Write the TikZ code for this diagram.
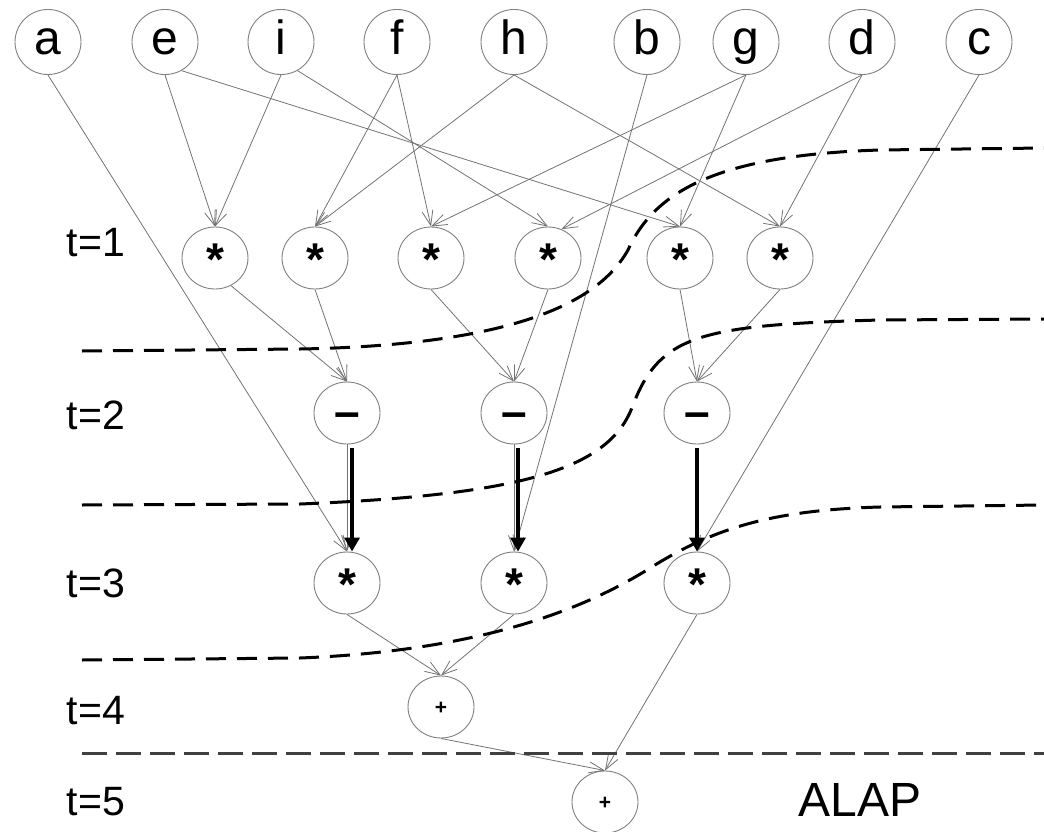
\documentclass[tikz,border=0pt]{standalone}
\usepackage{fontspec}
\setmainfont{Liberation Sans}
\usetikzlibrary{arrows.meta}
\usetikzlibrary{shapes.geometric}

\tikzset{
  opnode/.style={ellipse, draw=black!50, line width=0.9pt, minimum width=66pt, minimum height=62pt, inner sep=0pt},
  innode/.style={opnode, font=\fontsize{48}{50}\selectfont, text height=36pt, text depth=10pt},
  mulop/.style={opnode, font=\bfseries\fontsize{46}{46}\selectfont, text height=34pt, text depth=-10pt},
  subop/.style={opnode, font=\bfseries\fontsize{46}{46}\selectfont, text height=29pt, text depth=0pt},
  addop/.style={opnode, font=\bfseries\fontsize{21}{21}\selectfont, text height=15pt, text depth=0pt},
  slot/.style={font=\fontsize{41}{41}\selectfont},
  dep/.style={draw=black!55, line width=0.8pt, -{Straight Barb[length=15pt,width=11pt]}},
  chain/.style={draw=black, line width=3.6pt, shorten <=4pt, -{Triangle[length=14pt,width=15pt]}},
  bound/.style={draw=black, line width=3pt, dash pattern=on 20pt off 11pt},
}

\begin{document}
\begin{tikzpicture}[x=1pt,y=-1pt]
\useasboundingbox (0,0) rectangle (1044,832);

% inputs
\node[innode] (a) at (48,42) {a};
\node[innode] (e) at (165,42) {e};
\node[innode] (i) at (281,42) {i};
\node[innode] (f) at (397,42) {f};
\node[innode] (h) at (514,42) {h};
\node[innode] (b) at (647,42) {b};
\node[innode] (g) at (746,42) {g};
\node[innode] (d) at (862,42) {d};
\node[innode] (c) at (979,42) {c};

% t=1
\node[mulop] (m1) at (215,258) {*};
\node[mulop] (m2) at (315,258) {*};
\node[mulop] (m3) at (431,258) {*};
\node[mulop] (m4) at (548,258) {*};
\node[mulop] (m5) at (680,258) {*};
\node[mulop] (m6) at (780,258) {*};

% t=2
\node[subop] (s1) at (347,413) {–};
\node[subop] (s2) at (514,413) {–};
\node[subop] (s3) at (697,413) {–};

% t=3
\node[mulop] (p1) at (347,583) {*};
\node[mulop] (p2) at (514,583) {*};
\node[mulop] (p3) at (697,583) {*};

% t=4, t=5
\node[addop] (q) at (441,707) {+};
\node[addop] (r) at (605,802) {+};

% time labels
\node[slot] (t1) at (96,243) {t=1};
\node[slot] (t2) at (96,415) {t=2};
\node[slot] (t3) at (96,583) {t=3};
\node[slot] (t4) at (96,711) {t=4};
\node[slot] (t5) at (96,802) {t=5};
\node[font=\fontsize{48}{48}\selectfont] (alap) at (860,800) {ALAP};

% data edges
\draw[dep] (a.south) -- (p1.north);
\draw[dep] (e.south) -- (m1.north);
\draw[dep] (e.-60) -- (m5.north);
\draw[dep] (i.south) -- (m1.north);
\draw[dep] (i.-60) -- (m4.north);
\draw[dep] (f.south) -- (m2.north);
\draw[dep] (f.south) -- (m3.north);
\draw[dep] (h.south) -- (m2.north);
\draw[dep] (h.south) -- (m6.north);
\draw[dep] (b.south) -- (p2.north);
\draw[dep] (g.south) -- (m3.north);
\draw[dep] (g.south) -- (m5.north);
\draw[dep] (d.south) -- (m4.65);
\draw[dep] (d.south) -- (m6.north);
\draw[dep] (c.south) -- (p3.north);

\draw[dep] (m1.-60) -- (s1.north);
\draw[dep] (m2.south) -- (s1.north);
\draw[dep] (m3.south) -- (s2.north);
\draw[dep] (m4.south) -- (s2.north);
\draw[dep] (m5.south) -- (s3.north);
\draw[dep] (m6.south) -- (s3.north);

\draw[dep] (s1.south) -- (p1.north);
\draw[dep] (s2.south) -- (p2.north);
\draw[chain] ([xshift=5pt]s1.south) -- ([xshift=5pt]p1.north);
\draw[chain] ([xshift=4pt]s2.south) -- ([xshift=4pt]p2.north);
\draw[chain] (s3.south) -- (p3.north);

\draw[dep] (p1.south) -- (q.north);
\draw[dep] (p2.south) -- (q.north);
\draw[dep] (q.south) -- (r.north);
\draw[dep] (p3.south) -- (r.north);

% step boundaries
\draw[bound] (82,351) -- (300,349) .. controls (520,345) and (600,300) .. (628,250)
  .. controls (655,190) and (720,155) .. (880,150) -- (1044,148);
\draw[bound] (82,505) -- (300,504) .. controls (520,495) and (610,470) .. (633,405)
  .. controls (660,335) and (700,325) .. (880,320) -- (1044,319);
\draw[bound] (82,660) -- (300,658) .. controls (500,650) and (600,600) .. (655,565)
  .. controls (720,525) and (780,510) .. (880,507) -- (1044,505);
\draw[bound, draw=black!75, dash pattern=on 25pt off 9pt] (82,753) -- (1044,753);

\end{tikzpicture}
\end{document}
